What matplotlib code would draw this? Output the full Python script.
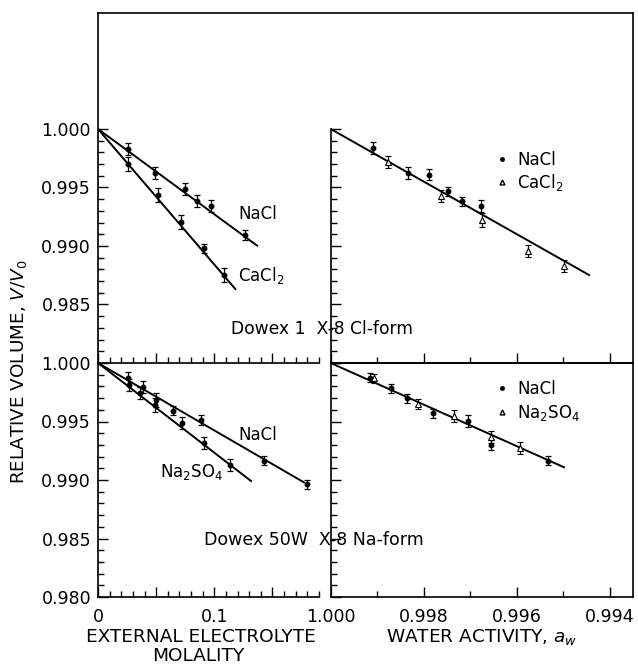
import matplotlib
matplotlib.use("Agg")
import matplotlib.pyplot as plt
from matplotlib.lines import Line2D
import numpy as np

# ---------------- data ----------------
# Top-left: Dowex 1 X-8 Cl-form vs molality
tl_nacl_m = [0.0261, 0.0491, 0.0744, 0.0851, 0.0972, 0.1261]
tl_nacl_v = [0.99829, 0.99624, 0.99487, 0.99387, 0.99339, 0.99094]
tl_nacl_err = [0.0005, 0.0005, 0.0005, 0.0005, 0.0005, 0.0004]
tl_nacl_line_m = [0.0, 0.1368]
tl_nacl_line_v = [1.000, 0.99003]

tl_cacl_m = [0.0261, 0.0520, 0.0713, 0.0908, 0.1086]
tl_cacl_v = [0.99701, 0.99439, 0.99208, 0.98980, 0.98752]
tl_cacl_err = [0.0006, 0.0006, 0.0006, 0.0004, 0.0006]
tl_cacl_line_m = [0.0, 0.1181]
tl_cacl_line_v = [1.000, 0.98632]

# Top-right: vs water activity
tr_nacl_aw = [0.99909, 0.99833, 0.99788, 0.99748, 0.99719, 0.99678]
tr_nacl_v = [0.99838, 0.99624, 0.99610, 0.99468, 0.99382, 0.99344]
tr_nacl_err = [0.0005, 0.0005, 0.0005, 0.0004, 0.0004, 0.0005]
tr_cacl_aw = [0.99876, 0.99762, 0.99674, 0.99577, 0.99499]
tr_cacl_v = [0.99715, 0.99425, 0.99225, 0.98960, 0.98832]
tr_cacl_err = [0.0005, 0.0005, 0.0006, 0.0005, 0.0005]
tr_line_aw = [1.000, 0.99445]
tr_line_v = [1.000, 0.98752]

# Bottom-left: Dowex 50W X-8 Na-form vs molality
bl_nacl_m = [0.0261, 0.0391, 0.0500, 0.0649, 0.0885, 0.1425, 0.1793]
bl_nacl_v = [0.99869, 0.99797, 0.99684, 0.99592, 0.99513, 0.99165, 0.98963]
bl_nacl_err = [0.0005, 0.0005, 0.0006, 0.0004, 0.0004, 0.0004, 0.0004]
bl_nacl_line_m = [0.0, 0.177]
bl_nacl_line_v = [1.000, 0.9898]

bl_naso_m = [0.0270, 0.0362, 0.0491, 0.0722, 0.0914, 0.1132]
bl_naso_v = [0.99812, 0.99741, 0.99641, 0.99485, 0.99314, 0.99128]
bl_naso_err = [0.0005, 0.0005, 0.0006, 0.0005, 0.0005, 0.0005]
bl_naso_line_m = [0.0, 0.1316]
bl_naso_line_v = [1.000, 0.98991]

# Bottom-right: vs water activity
br_nacl_aw = [0.99916, 0.99871, 0.99836, 0.99780, 0.99705, 0.99655, 0.99533]
br_nacl_v = [0.99874, 0.99784, 0.99698, 0.99570, 0.99507, 0.99299, 0.99165]
br_nacl_err = [0.0004, 0.0004, 0.0004, 0.0004, 0.0005, 0.0004, 0.0004]
br_naso_aw = [0.99907, 0.99813, 0.99735, 0.99655, 0.99594]
br_naso_v = [0.99869, 0.99650, 0.99547, 0.99365, 0.99271]
br_naso_err = [0.0004, 0.0004, 0.0005, 0.0005, 0.0005]
br_line_aw = [1.000, 0.99499]
br_line_v = [1.000, 0.99109]

mol_major = [0.0, 0.05, 0.1, 0.15]
mol_major_labels = ["0", "", "0.1", ""]
mol_minor = [0.01, 0.02, 0.03, 0.04, 0.06, 0.07, 0.08, 0.09,
             0.11, 0.12, 0.13, 0.14, 0.16, 0.17, 0.18, 0.19]
aw_major = [1.000, 0.998, 0.996, 0.994]
aw_major_labels = ["1.000", "0.998", "0.996", "0.994"]
aw_minor = [0.999, 0.997, 0.995]
top_yticks = [0.985, 0.990, 0.995, 1.000]
top_ylabels = ["0.985", "0.990", "0.995", "1.000"]
bot_yticks = [0.980, 0.985, 0.990, 0.995, 1.000]
bot_ylabels = ["0.980", "0.985", "0.990", "0.995", "1.000"]
y_minor = [0.981, 0.982, 0.983, 0.984, 0.986, 0.987, 0.988, 0.989,
           0.991, 0.992, 0.993, 0.994, 0.996, 0.997, 0.998, 0.999]

# ---------------- figure ----------------
plt.rcParams['font.family'] = ['DejaVu Sans']
W, H = 638, 666
fig = plt.figure(figsize=(W / 100, H / 100), dpi=100)

def fx(px):
    return px / W

def fy(py):
    return 1 - py / H

xl, xr_l = 98, 319
xr0, xr1 = 330.7, 633.3
ytop, ymid, ybot = 13, 363, 597

ax_tl = fig.add_axes([fx(xl), fy(ymid), fx(xr_l - xl), (ymid - ytop) / H])
ax_tr = fig.add_axes([fx(xr0), fy(ymid), fx(xr1 - xr0), (ymid - ytop) / H])
ax_bl = fig.add_axes([fx(xl), fy(ybot), fx(xr_l - xl), (ybot - ymid) / H])
ax_br = fig.add_axes([fx(xr0), fy(ybot), fx(xr1 - xr0), (ybot - ymid) / H])

top_ylim = (0.980, 0.980 + 0.020 * (ymid - ytop) / (ybot - ymid))
for ax in (ax_tl, ax_tr):
    ax.set_ylim(*top_ylim)
for ax in (ax_bl, ax_br):
    ax.set_ylim(0.980, 1.000)
for ax in (ax_tl, ax_bl):
    ax.set_xlim(0, 0.19)
for ax in (ax_tr, ax_br):
    ax.set_xlim(1.000, 0.9935)

LW = 1.4
SP = 1.2
for ax in (ax_tl, ax_tr, ax_bl, ax_br):
    for s in ax.spines.values():
        s.set_linewidth(SP)
    ax.patch.set_visible(False)

# spines
ax_tl.spines['top'].set_visible(False)
ax_tl.spines['right'].set_visible(False)
ax_tr.spines['top'].set_visible(False)
ax_tr.spines['left'].set_bounds(0.980, 1.000)
ax_bl.spines['top'].set_visible(False)
ax_bl.spines['right'].set_visible(False)
fig.add_artist(Line2D([fx(xl), fx(xr1)], [fy(ytop), fy(ytop)],
                      color='black', lw=SP, transform=fig.transFigure))

# ticks
def xticks_mol(ax, labels):
    ax.set_xticks(mol_major)
    ax.set_xticklabels(mol_major_labels if labels else [""] * len(mol_major))
    ax.set_xticks(mol_minor, minor=True)

def xticks_aw(ax, labels):
    ax.set_xticks(aw_major)
    ax.set_xticklabels(aw_major_labels if labels else [""] * len(aw_major))
    ax.set_xticks(aw_minor, minor=True)

xticks_mol(ax_tl, False)
xticks_mol(ax_bl, True)
xticks_aw(ax_tr, False)
xticks_aw(ax_br, True)

ax_tl.set_yticks(top_yticks)
ax_tl.set_yticklabels(top_ylabels)
ax_bl.set_yticks(bot_yticks)
ax_bl.set_yticklabels(bot_ylabels)
ax_tr.set_yticks(top_yticks + [0.980])
ax_tr.set_yticklabels([""] * 5)
ax_br.set_yticks(bot_yticks)
ax_br.set_yticklabels([""] * 5)
for ax in (ax_tl, ax_tr, ax_bl, ax_br):
    ax.set_yticks(y_minor, minor=True)
    ax.tick_params(axis='both', which='both', direction='in',
                   top=False, right=False, width=1.0, labelsize=12.5,
                   colors='black')
    ax.tick_params(axis='both', which='major', length=7)
    ax.tick_params(axis='both', which='minor', length=4)
    ax.tick_params(axis='y', pad=5)
    ax.tick_params(axis='x', pad=8)

# ---------------- data drawing ----------------
eb = dict(color='black', ecolor='black', elinewidth=0.9, capsize=2.3,
          capthick=0.9, linestyle='none')

def draw_dot(ax, x, y, e):
    ax.errorbar(x, y, yerr=e, marker='o', markersize=3.2,
                markerfacecolor='black', markeredgecolor='black', **eb)

def draw_tri(ax, x, y, e):
    ax.errorbar(x, y, yerr=e, marker='^', markersize=4,
                markerfacecolor='white', markeredgecolor='black',
                markeredgewidth=0.8, **eb)

# top-left
ax_tl.plot(tl_nacl_line_m, tl_nacl_line_v, color='black', lw=LW)
ax_tl.plot(tl_cacl_line_m, tl_cacl_line_v, color='black', lw=LW)
draw_dot(ax_tl, tl_nacl_m, tl_nacl_v, tl_nacl_err)
draw_dot(ax_tl, tl_cacl_m, tl_cacl_v, tl_cacl_err)
ax_tl.text(0.1207, 0.99274, "NaCl", fontsize=12, va='center', ha='left')
ax_tl.text(0.1207, 0.98744, r"CaCl$_2$", fontsize=12, va='center', ha='left')

# top-right
ax_tr.plot(tr_line_aw, tr_line_v, color='black', lw=LW)
draw_dot(ax_tr, tr_nacl_aw, tr_nacl_v, tr_nacl_err)
draw_tri(ax_tr, tr_cacl_aw, tr_cacl_v, tr_cacl_err)

# bottom-left
ax_bl.plot(bl_nacl_line_m, bl_nacl_line_v, color='black', lw=LW)
ax_bl.plot(bl_naso_line_m, bl_naso_line_v, color='black', lw=LW)
draw_dot(ax_bl, bl_nacl_m, bl_nacl_v, bl_nacl_err)
draw_dot(ax_bl, bl_naso_m, bl_naso_v, bl_naso_err)
ax_bl.text(0.1207, 0.99385, "NaCl", fontsize=12, va='center', ha='left')
ax_bl.text(0.0534, 0.99071, r"Na$_2$SO$_4$", fontsize=12, va='center', ha='left')

# bottom-right
ax_br.plot(br_line_aw, br_line_v, color='black', lw=LW)
draw_dot(ax_br, br_nacl_aw, br_nacl_v, br_nacl_err)
draw_tri(ax_br, br_naso_aw, br_naso_v, br_naso_err)

# legends
def legend(ax, labels, anchor, spacing):
    h = [Line2D([], [], marker='o', markersize=2.5, color='black', ls='none'),
         Line2D([], [], marker='^', markersize=3.5, markerfacecolor='white',
                markeredgecolor='black', ls='none')]
    ax.legend(h, labels, loc='upper left', bbox_to_anchor=anchor,
              frameon=False, fontsize=12, handlelength=0.8,
              handletextpad=0.5, labelspacing=spacing, borderpad=0,
              borderaxespad=0)

legend(ax_tr, ["NaCl", r"CaCl$_2$"], (0.545, 0.606), 0.2)
legend(ax_br, ["NaCl", r"Na$_2$SO$_4$"], (0.545, 0.928), 0.3)

# panel titles
fig.text(fx(322), fy(329), "Dowex 1  X-8 Cl-form", fontsize=12.3,
         ha='center', va='center')
fig.text(fx(314), fy(540), "Dowex 50W  X-8 Na-form", fontsize=12.5,
         ha='center', va='center')

# axis labels
fig.text(fx(19), fy(372), r"RELATIVE VOLUME, $V/V_0$", fontsize=13.2,
         rotation=90, ha='center', va='center')
fig.text(fx(201), fy(637), "EXTERNAL ELECTROLYTE", fontsize=13.3,
         ha='center', va='center')
fig.text(fx(198), fy(656), "MOLALITY", fontsize=13.3,
         ha='center', va='center')
fig.text(fx(482), fy(637), r"WATER ACTIVITY, $a_w$", fontsize=13.3,
         ha='center', va='center')

fig.savefig("out.png", dpi=100)
